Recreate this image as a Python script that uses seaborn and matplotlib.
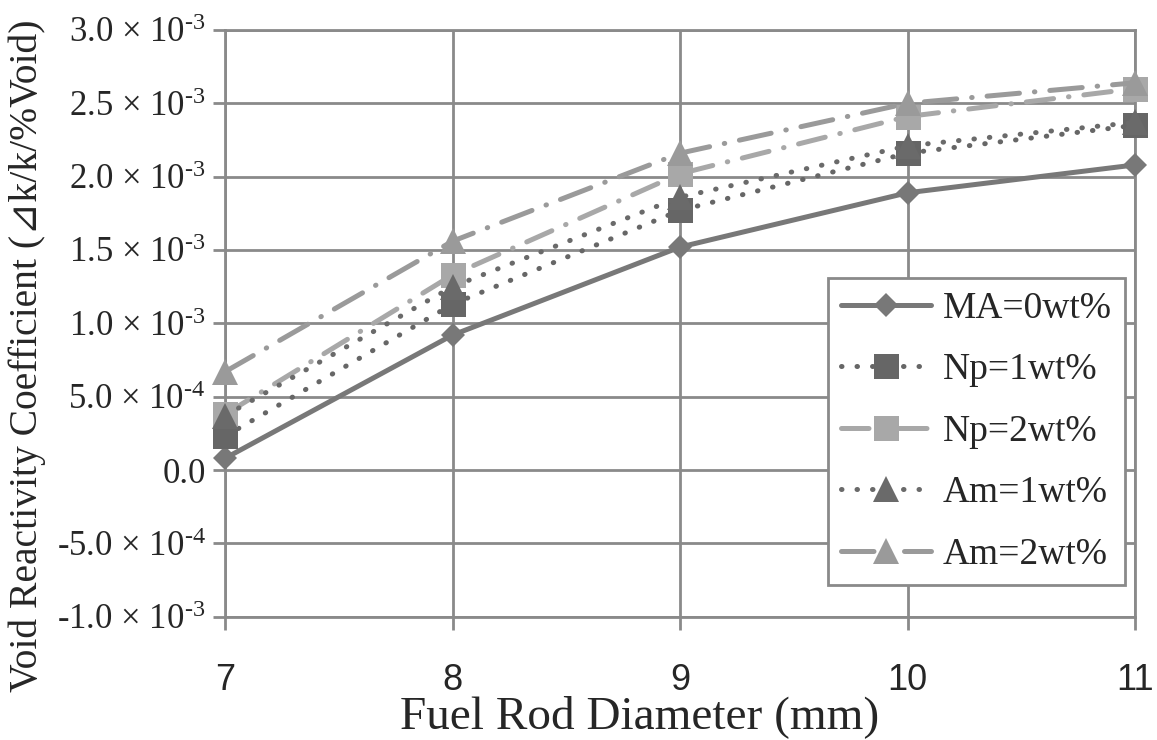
import numpy as np
import pandas as pd
import matplotlib
matplotlib.use("Agg")
import matplotlib.pyplot as plt
import seaborn as sns

# ---- data ----
diameters = [7, 8, 9, 10, 11]
ma0 = [0.08e-3, 0.92e-3, 1.52e-3, 1.89e-3, 2.08e-3]
np1 = [0.23e-3, 1.13e-3, 1.77e-3, 2.16e-3, 2.35e-3]
np2 = [0.38e-3, 1.33e-3, 2.02e-3, 2.41e-3, 2.60e-3]
am1 = [0.37e-3, 1.25e-3, 1.86e-3, 2.21e-3, 2.37e-3]
am2 = [0.67e-3, 1.56e-3, 2.16e-3, 2.50e-3, 2.64e-3]
series_names = ["MA=0wt%", "Np=1wt%", "Np=2wt%", "Am=1wt%", "Am=2wt%"]
y_ticks = [-1.0e-3, -5.0e-4, 0.0, 5.0e-4, 1.0e-3, 1.5e-3, 2.0e-3, 2.5e-3, 3.0e-3]
y_tick_labels = ["-1.0 \u00d7 $10^{\\text{-3}}$", "-5.0 \u00d7 $10^{\\text{-4}}$", "0.0",
                 "5.0 \u00d7 $10^{\\text{-4}}$", "1.0 \u00d7 $10^{\\text{-3}}$",
                 "1.5 \u00d7 $10^{\\text{-3}}$", "2.0 \u00d7 $10^{\\text{-3}}$",
                 "2.5 \u00d7 $10^{\\text{-3}}$", "3.0 \u00d7 $10^{\\text{-3}}$"]
x_label = "Fuel Rod Diameter (mm)"
y_label = "Void Reactivity Coefficient (\u22bfk/k/%Void)"

df = pd.DataFrame({
    "d": diameters * 5,
    "v": ma0 + np1 + np2 + am1 + am2,
    "s": sum([[n] * 5 for n in series_names], []),
})

sns.set_theme(style="white")
plt.rcParams["font.family"] = ["Liberation Serif", "DejaVu Sans", "Noto Sans CJK JP"]
plt.rcParams["mathtext.fontset"] = "custom"
plt.rcParams["mathtext.rm"] = "Liberation Serif"
plt.rcParams["mathtext.it"] = "Liberation Serif:italic"
plt.rcParams["mathtext.bf"] = "Liberation Serif:bold"

fig = plt.figure(figsize=(11.57, 7.40), dpi=100)
ax = fig.add_axes([0.1945, 0.1666, 0.7865, 0.7929])

grid_c = "#8a8a8a"
lw = 3.6
styles = {
    "MA=0wt%": dict(color="#787878", ls="-", marker="D", ms=12.5),
    "Np=1wt%": dict(color="#666666", ls=(0, (0.1, 3.0)), marker="s", ms=18),
    "Np=2wt%": dict(color="#a8a8a8", ls=(0, (5.5, 3.0, 0.1, 3.0)), marker="s", ms=18),
    "Am=1wt%": dict(color="#6a6a6a", ls=(0, (0.1, 3.0)), marker="^", ms=19),
    "Am=2wt%": dict(color="#9a9a9a", ls=(0, (6.5, 3.0, 0.1, 3.0)), marker="^", ms=19),
}

for name in series_names:
    st = styles[name]
    sub = df[df["s"] == name]
    sns.lineplot(data=sub, x="d", y="v", ax=ax, color=st["color"], lw=lw,
                 linestyle=st["ls"], marker=st["marker"], markersize=st["ms"],
                 markeredgewidth=0, label=name, dash_capstyle="round",
                 solid_capstyle="round", clip_on=False, zorder=3)

ax.set_xlim(7, 11)
ax.set_ylim(-1.0e-3, 3.0e-3)
ax.set_xticks(diameters)
ax.set_xticklabels([str(d) for d in diameters], family=["Liberation Sans"], fontsize=26)
ax.set_yticks(y_ticks)
ax.set_yticklabels(y_tick_labels, fontsize=25)

ax.grid(True, color=grid_c, lw=2)
for sp in ax.spines.values():
    sp.set_color(grid_c)
    sp.set_linewidth(2)
ax.tick_params(axis="both", which="both", direction="out", color=grid_c, width=2,
               length=9, left=True, bottom=True)
ax.tick_params(axis="x", pad=24)
ax.tick_params(axis="y", pad=5)

ax.set_xlabel(x_label, fontsize=34)
ax.xaxis.set_label_coords(0.456, -0.133)
ax.set_ylabel(y_label, fontsize=28.5)
ax.yaxis.set_label_coords(-0.197, 0.444)

leg = ax.legend(loc="lower left", bbox_to_anchor=(0.7157, 0.2095),
                bbox_transform=fig.transFigure, fontsize=27, frameon=True,
                fancybox=False, edgecolor=grid_c, handlelength=2.4,
                handletextpad=0.3, labelspacing=0.72, borderpad=0.35,
                borderaxespad=0, framealpha=1, numpoints=1)
leg.get_frame().set_linewidth(2)

fig.savefig("out.png", dpi=100, facecolor="white")
